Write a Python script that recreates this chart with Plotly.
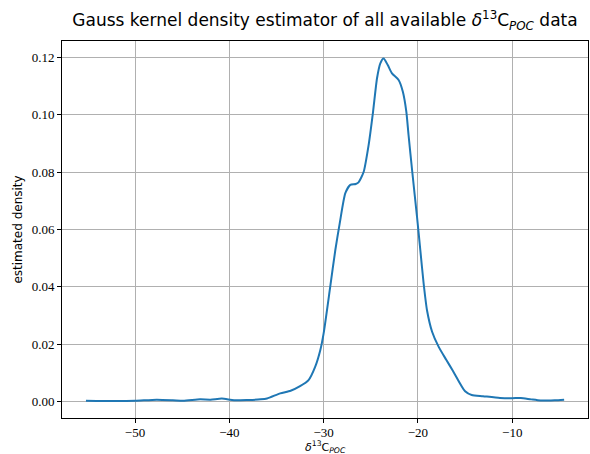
import plotly.graph_objects as go

# delta13C_POC values (x) and estimated density (y)
d13c = [-55.2, -52.0, -50.0, -47.7, -46.0, -44.9, -43.1, -42.0, -40.8, -39.5,
        -38.0, -36.7, -36.0, -34.6, -33.5, -32.5, -31.6, -30.9, -30.35, -30.0,
        -29.3, -28.76, -28.3, -27.7, -27.17, -26.6, -26.3, -25.76, -25.23, -24.76,
        -24.34, -23.99, -23.64, -23.2, -22.75, -22.05, -21.6, -21.23, -21.0, -20.6,
        -20.1, -19.75, -19.4, -19.04, -18.5, -17.8, -17.0, -16.3, -15.0, -14.3,
        -13.1, -11.3, -10.0, -9.1, -8.0, -7.0, -5.5, -4.5]
density = [0.0002, 0.0001, 0.0002, 0.0006, 0.0004, 0.0002, 0.0007, 0.0006, 0.0010, 0.0004,
           0.0005, 0.0007, 0.0010, 0.0028, 0.0037, 0.0053, 0.0074, 0.0120, 0.0179, 0.0237,
           0.0400, 0.0528, 0.0620, 0.0726, 0.0755, 0.0758, 0.0764, 0.0800, 0.0894, 0.1010,
           0.1127, 0.1179, 0.1196, 0.1173, 0.1144, 0.1121, 0.1080, 0.1010, 0.0930, 0.0800,
           0.0644, 0.0528, 0.0412, 0.0318, 0.0243, 0.0190, 0.0145, 0.0107, 0.0035, 0.0022,
           0.0018, 0.0012, 0.0011, 0.0012, 0.0007, 0.0003, 0.0004, 0.0006]

x_ticks = [-50, -40, -30, -20, -10]
y_ticks = [0.00, 0.02, 0.04, 0.06, 0.08, 0.10, 0.12]

fig = go.Figure()
fig.add_trace(go.Scatter(x=d13c, y=density, mode="lines",
                         line=dict(color="#1f77b4", width=2, shape="spline", smoothing=0.6),
                         showlegend=False, hoverinfo="skip"))

serif = "Liberation Serif"
sans = "DejaVu Sans"

axis_common = dict(showline=True, linecolor="black", linewidth=1, mirror=True,
                   ticks="outside", ticklen=4, tickwidth=1, tickcolor="black",
                   showgrid=True, gridcolor="#b0b0b0", gridwidth=1, zeroline=False,
                   tickfont=dict(family=serif, size=13, color="black"))

fig.update_layout(
    width=590, height=454,
    margin=dict(l=62, r=2, t=41, b=36),
    paper_bgcolor="white", plot_bgcolor="white",
    title=dict(text="Gauss kernel density estimator of all available <i>δ</i><sup>13</sup>C<sub><i>POC</i></sub> data",
               x=0.5, xref="paper", xanchor="center", y=0.955, yref="container", yanchor="middle",
               font=dict(family=sans, size=17, color="black")),
    xaxis=dict(range=[-57.74, -1.97], tickvals=x_ticks,
               ticktext=["−50", "−40", "−30", "−20", "−10"],
               ticklabelstandoff=-2,
               automargin=False, **axis_common),
    yaxis=dict(range=[-0.0058, 0.1257], tickvals=y_ticks,
               ticktext=["0.00", "0.02", "0.04", "0.06", "0.08", "0.10", "0.12"],
               title=dict(text="estimated density", standoff=6,
                          font=dict(family=sans, size=12, color="black")),
               automargin=False, **axis_common),
)

fig.add_annotation(text="<i>δ</i><sup>13</sup>C<sub><i>POC</i></sub>",
                   xref="paper", yref="paper", x=0.5, y=-0.052,
                   xanchor="center", yanchor="top", showarrow=False, borderpad=0,
                   font=dict(family=sans, size=11, color="black"))

fig.write_html("out.html")
